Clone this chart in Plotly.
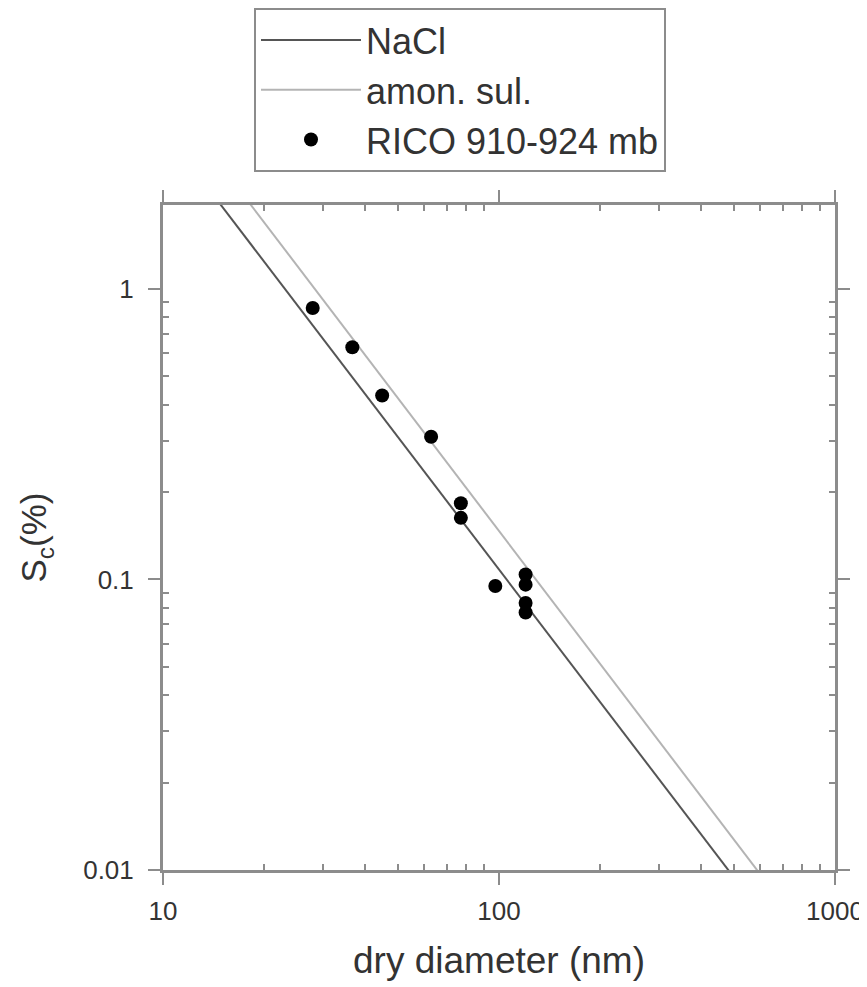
import plotly.graph_objects as go

# Data
rico_diam = [27.9, 36.6, 44.9, 62.8, 77.0, 77.0, 97.5, 120.0, 120.0, 120.0, 120.0]
rico_sc = [0.86, 0.63, 0.43, 0.31, 0.183, 0.163, 0.095, 0.104, 0.096, 0.083, 0.077]

line_diam = [10, 1000]
nacl_sc = [3.55, 0.0033]
amsul_sc = [4.86, 0.00444]

x_ticks = [10, 100, 1000]
x_tick_text = ["10", "100", "1000"]
y_ticks = [0.01, 0.1, 1]
y_tick_text = ["0.01", "0.1", "1"]

x_minor = [m * d for d in (10, 100) for m in range(2, 10)]
y_minor = [m * d for d in (0.01, 0.1, 1) for m in range(2, 10) if m * d <= 2]

FONT = "Liberation Sans, Arial"
GREY = "#8c8c8c"
TXT = "#333333"

# The page body adds an 8px offset
W, H = 859, 975
L, R, T, B = 155, 32, 197, 113
PW, PH = W - L - R, H - T - B

fig = go.Figure()
fig.add_trace(go.Scatter(x=line_diam, y=nacl_sc, mode="lines", name="NaCl",
                         line=dict(color="#555555", width=2)))
fig.add_trace(go.Scatter(x=line_diam, y=amsul_sc, mode="lines", name="amon. sul.",
                         line=dict(color="#b4b4b4", width=2)))
fig.add_trace(go.Scatter(x=rico_diam, y=rico_sc, mode="markers", name="RICO 910-924 mb",
                         marker=dict(color="black", size=14)))

axis_common = dict(
    type="log", showgrid=False, zeroline=False, automargin=False,
    showline=True, linecolor=GREY, linewidth=3, mirror="allticks",
    ticks="outside", ticklen=12, tickwidth=2, tickcolor=GREY,
    tickfont=dict(family=FONT, size=26, color=TXT),
)

fig.update_layout(
    width=W, height=H,
    margin=dict(l=L, r=R, t=T, b=B, autoexpand=False),
    plot_bgcolor="white", paper_bgcolor="white",
    font=dict(family=FONT, color=TXT),
    xaxis=dict(axis_common, range=[1, 3], tickvals=x_ticks, ticktext=x_tick_text,
               ticklabelstandoff=4,
               minor=dict(tickvals=x_minor, ticks="inside", ticklen=6, tickwidth=1.5,
                          tickcolor=GREY, showgrid=False),
               title=dict(text="dry diameter (nm)", font=dict(size=37, color=TXT), standoff=22)),
    yaxis=dict(axis_common, range=[-2, 0.289], tickvals=y_ticks, ticktext=y_tick_text,
               ticklabelstandoff=9,
               minor=dict(tickvals=y_minor, ticks="inside", ticklen=6, tickwidth=1.5,
                          tickcolor=GREY, showgrid=False),
               title=dict(text="S<sub>c</sub>(%)", font=dict(size=35, color=TXT), standoff=26)),
    legend=dict(x=(246 - L) / PW, y=1 + T / PH, xanchor="left", yanchor="top",
                bgcolor="white", bordercolor=GREY, borderwidth=2,
                font=dict(family=FONT, size=36, color=TXT), itemwidth=100,
                entrywidth=312, tracegroupgap=0),
    showlegend=True,
)

fig.write_html("out.html")
